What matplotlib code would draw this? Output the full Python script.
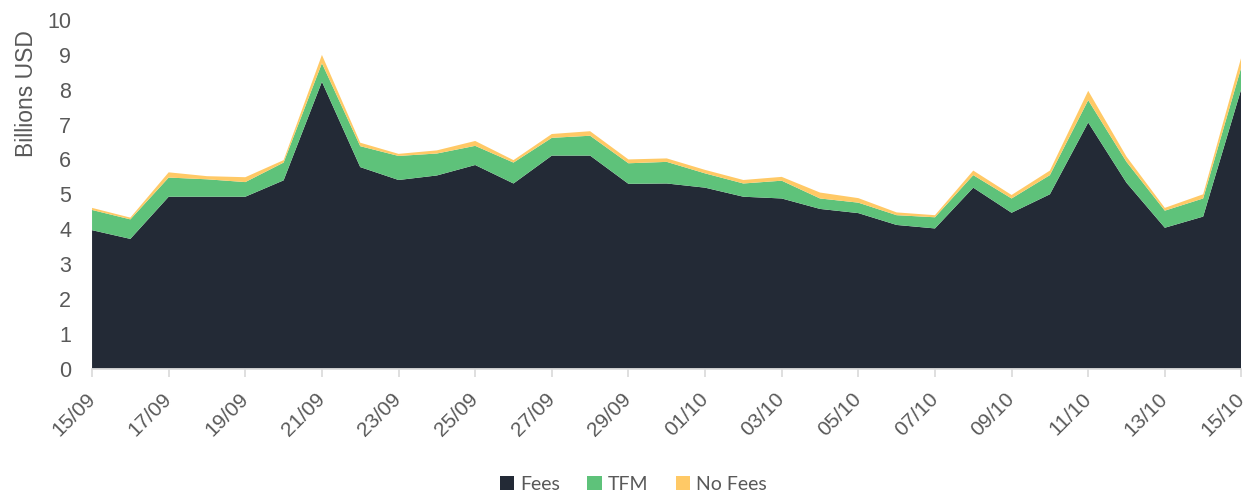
import matplotlib
matplotlib.use("Agg")
import matplotlib.pyplot as plt
import numpy as np
from matplotlib.patches import Patch

dates = ["15/09", "16/09", "17/09", "18/09", "19/09", "20/09", "21/09", "22/09",
         "23/09", "24/09", "25/09", "26/09", "27/09", "28/09", "29/09", "30/09",
         "01/10", "02/10", "03/10", "04/10", "05/10", "06/10", "07/10", "08/10",
         "09/10", "10/10", "11/10", "12/10", "13/10", "14/10", "15/10"]

fees = [3.97, 3.72, 4.93, 4.93, 4.93, 5.40, 8.23, 5.78, 5.41, 5.54, 5.84,
        5.31, 6.11, 6.11, 5.30, 5.31, 5.19, 4.93, 4.88, 4.58, 4.46,
        4.12, 4.02, 5.19, 4.47, 5.00, 7.06, 5.33, 4.04, 4.36, 8.04]
tfm = [0.58, 0.56, 0.55, 0.50, 0.42, 0.51, 0.53, 0.60, 0.69, 0.63, 0.55,
       0.60, 0.51, 0.57, 0.59, 0.62, 0.41, 0.38, 0.51, 0.30, 0.30,
       0.28, 0.32, 0.36, 0.41, 0.55, 0.64, 0.60, 0.49, 0.52, 0.62]
nofees = [0.06, 0.05, 0.15, 0.09, 0.14, 0.07, 0.24, 0.10, 0.06, 0.09, 0.14,
          0.07, 0.11, 0.13, 0.11, 0.10, 0.10, 0.10, 0.11, 0.17, 0.13,
          0.08, 0.06, 0.13, 0.10, 0.13, 0.27, 0.15, 0.08, 0.12, 0.29]

series_names = ["Fees", "TFM", "No Fees"]
colors = ["#232a36", "#5ec27a", "#ffc966"]
text_color = "#595959"
grid_color = "#d9d9d9"

fig = plt.figure(figsize=(12.54, 4.96), dpi=100)
ax = fig.add_axes([0.0734, 0.257, 0.9166, 0.7026])

x = np.arange(len(dates))
ax.stackplot(x, fees, tfm, nofees, colors=colors, linewidth=0)

ax.set_xlim(0, len(dates) - 1)
ax.set_ylim(0, 10)
ax.set_yticks(range(0, 11))
ax.set_xticks(x[::2])
ax.set_xticklabels(dates[::2], rotation=45, ha="right", va="center",
                   rotation_mode="anchor", fontsize=15, color=text_color,
                   family="Liberation Sans")
for lab in ax.get_yticklabels():
    lab.set_fontsize(15.5)
    lab.set_color(text_color)
    lab.set_family("Liberation Sans")

ax.tick_params(axis="y", length=0, pad=15)
ax.tick_params(axis="x", length=6, color=grid_color, width=1.2, pad=14)

for s in ["top", "right", "left"]:
    ax.spines[s].set_visible(False)
ax.spines["bottom"].set_color(grid_color)
ax.spines["bottom"].set_linewidth(1.2)

fig.text(0.021, 0.94, "Billions USD", rotation=90, ha="center", va="top",
         fontsize=16.5, color=text_color, family="Liberation Sans")

handles = [Patch(facecolor=c, edgecolor="none") for c in colors]
fig.legend(handles, series_names, loc="center", bbox_to_anchor=(0.505, 0.024),
           ncol=3, frameon=False, handlelength=0.75,
           handleheight=0.75, handletextpad=0.3, columnspacing=1.4,
           labelcolor=text_color, prop={"family": "Lato", "size": 14})

fig.savefig("out.png", dpi=100)
